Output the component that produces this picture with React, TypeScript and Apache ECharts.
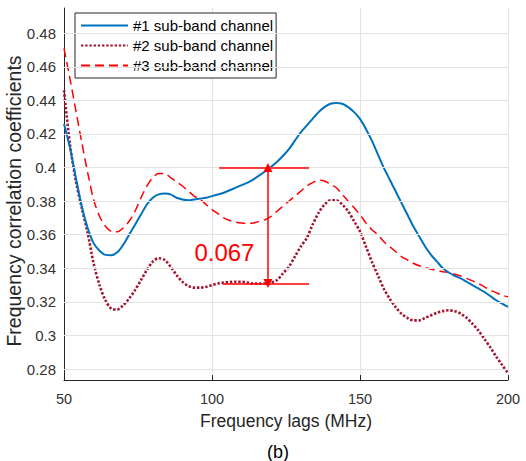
import React, { useEffect, useRef } from 'react';
import * as echarts from 'echarts';

const lags = [
  50, 52, 54, 56, 58, 60, 62, 64, 66, 68, 70, 72, 74, 76, 78, 80, 82, 84, 86, 88,
  90, 92, 94, 96, 98, 100, 102, 104, 106, 108, 110, 112, 114, 116, 118, 120, 122, 124, 126, 128,
  130, 132, 134, 136, 138, 140, 142, 144, 146, 148, 150, 152, 154, 156, 158, 160, 162, 164, 166, 168,
  170, 172, 174, 176, 178, 180, 182, 184, 186, 188, 190, 192, 194, 196, 198, 200,
];

const channel1 = [
  0.426, 0.412, 0.394, 0.377, 0.364, 0.355, 0.3505, 0.348, 0.3478, 0.3495, 0.354, 0.36, 0.366, 0.372, 0.378, 0.382, 0.384, 0.3845, 0.384, 0.382,
  0.381, 0.3805, 0.381, 0.3815, 0.382, 0.383, 0.384, 0.385, 0.3865, 0.388, 0.3895, 0.391, 0.393, 0.3953, 0.3978, 0.4005, 0.4035, 0.407, 0.411, 0.416,
  0.421, 0.425, 0.429, 0.433, 0.436, 0.438, 0.4385, 0.438, 0.436, 0.433, 0.429, 0.423, 0.416, 0.408, 0.4, 0.393, 0.386, 0.379, 0.372, 0.365,
  0.359, 0.353, 0.348, 0.344, 0.34, 0.3375, 0.3355, 0.334, 0.332, 0.33, 0.328, 0.326, 0.3235, 0.321, 0.319, 0.317,
];

const channel2 = [
  0.446, 0.414, 0.392, 0.376, 0.361, 0.343, 0.33, 0.321, 0.316, 0.3155, 0.318, 0.322, 0.327, 0.333, 0.339, 0.344, 0.346, 0.345, 0.341, 0.336,
  0.332, 0.3295, 0.3285, 0.3285, 0.329, 0.33, 0.331, 0.3315, 0.3318, 0.332, 0.332, 0.3315, 0.331, 0.331, 0.331, 0.3315, 0.333, 0.337, 0.341, 0.347,
  0.353, 0.358, 0.366, 0.373, 0.378, 0.3805, 0.3805, 0.378, 0.374, 0.368, 0.362, 0.353, 0.344, 0.336, 0.328, 0.322, 0.317, 0.313, 0.3105, 0.309,
  0.309, 0.3105, 0.312, 0.3135, 0.3145, 0.315, 0.3145, 0.313, 0.3105, 0.307, 0.303, 0.298, 0.293, 0.2875, 0.2825, 0.2775,
];

const channel3 = [
  0.471, 0.453, 0.434, 0.415, 0.397, 0.381, 0.371, 0.365, 0.362, 0.3617, 0.364, 0.368, 0.374, 0.382, 0.389, 0.394, 0.3965, 0.3965, 0.394, 0.3915,
  0.389, 0.386, 0.383, 0.381, 0.378, 0.375, 0.3725, 0.37, 0.3685, 0.3675, 0.367, 0.3668, 0.367, 0.368, 0.369, 0.371, 0.374, 0.377, 0.38, 0.383,
  0.386, 0.389, 0.391, 0.3925, 0.392, 0.39, 0.388, 0.384, 0.38, 0.376, 0.372, 0.367, 0.363, 0.36, 0.356, 0.353, 0.35, 0.347, 0.345, 0.343,
  0.3415, 0.3405, 0.3395, 0.3388, 0.338, 0.3375, 0.3365, 0.3355, 0.334, 0.3325, 0.331, 0.329, 0.327, 0.3255, 0.324, 0.323,
];

const seriesNames = ['#1 sub-band channel', '#2 sub-band channel', '#3 sub-band channel'];
const yTicks = [0.28, 0.3, 0.32, 0.34, 0.36, 0.38, 0.4, 0.42, 0.44, 0.46, 0.48];
const xTicks = [50, 100, 150, 200];

// annotation (data units)
const gapLevels = [0.4, 0.331];
const gapLag = 118.9;
const gapLineStart = [102.4, 103.7];
const gapLineEnd = 132.8;
const gapText = '0.067';
const gapTextPos = [104.2, 0.3496];

const FONT = '"Liberation Sans", Arial, Helvetica, sans-serif';

export default function App() {
  const ref = useRef<HTMLDivElement>(null);

  useEffect(() => {
    if (!ref.current) return;
    const chart = echarts.init(ref.current, null, { renderer: 'svg' });
    const pairs = (vals: number[]) => lags.map((l, i) => [l, vals[i]]);

    chart.setOption({
      animation: false,
      backgroundColor: '#ffffff',
      textStyle: { fontFamily: FONT },
      grid: { left: 64, right: 18, top: 8, bottom: 81, containLabel: false },
      legend: {
        orient: 'vertical',
        left: 75,
        top: 13,
        padding: [5, 3, 5, 5],
        itemGap: 5,
        itemWidth: 47,
        itemHeight: 12,
        selectedMode: false,
        borderColor: '#262626',
        borderWidth: 1,
        backgroundColor: '#ffffff',
        itemStyle: { opacity: 0, borderWidth: 0 },
        textStyle: { fontSize: 15, color: '#000000', fontFamily: FONT, padding: [0, 0, 0, 0] },
        data: seriesNames,
      },
      xAxis: {
        type: 'value',
        min: 50,
        max: 200,
        interval: 50,
        name: 'Frequency lags (MHz)',
        nameLocation: 'middle',
        nameGap: 32,
        nameTextStyle: { fontSize: 17.5, color: '#262626', fontFamily: FONT },
        axisLine: { show: true, lineStyle: { color: '#262626', width: 1 } },
        axisTick: { show: true, inside: true, length: 5, lineStyle: { color: '#262626' }, customValues: xTicks },
        axisLabel: { fontSize: 14.5, color: '#333333', margin: 11, fontFamily: FONT, customValues: xTicks },
        splitLine: { show: true, lineStyle: { color: '#e3e3e3', width: 1 } },
      },
      yAxis: {
        type: 'value',
        min: 0.2735,
        max: 0.495,
        axisLine: { show: true, lineStyle: { color: '#262626', width: 1 } },
        axisTick: { show: true, inside: true, length: 5, lineStyle: { color: '#262626' }, customValues: yTicks },
        axisLabel: {
          fontSize: 15,
          color: '#333333',
          margin: 8,
          fontFamily: FONT,
          customValues: yTicks,
          formatter: (v: number) => String(parseFloat(v.toFixed(3))),
        },
        splitLine: { show: false },
      },
      graphic: [
        {
          type: 'text',
          x: 14,
          y: 201,
          rotation: Math.PI / 2,
          style: {
            text: 'Frequency correlation coefficients',
            fontSize: 19.5,
            fontFamily: FONT,
            fill: '#262626',
            textAlign: 'center',
            textVerticalAlign: 'middle',
          },
        },
        {
          type: 'text',
          x: 278,
          y: 452,
          style: {
            text: '(b)',
            fontSize: 18,
            fontFamily: FONT,
            fill: '#000000',
            textAlign: 'center',
            textVerticalAlign: 'middle',
          },
        },
      ],
      series: [
        {
          name: 'grid',
          type: 'line',
          data: [],
          z: 1,
          silent: true,
          markLine: {
            silent: true,
            symbol: 'none',
            label: { show: false },
            lineStyle: { color: '#e3e3e3', width: 1, type: 'solid' },
            data: yTicks.map((v) => ({ yAxis: v })),
          },
        },
        {
          name: seriesNames[0],
          type: 'line',
          data: pairs(channel1),
          showSymbol: false,
          symbol: 'none',
          smooth: 0.3,
          z: 4,
          color: '#0072BD',
          lineStyle: { color: '#0072BD', width: 2 },
        },
        {
          name: seriesNames[1],
          type: 'line',
          data: pairs(channel2),
          showSymbol: false,
          symbol: 'none',
          smooth: 0.3,
          z: 3,
          color: '#A2142F',
          lineStyle: { color: '#A2142F', width: 2.6, type: [2.4, 1.8], cap: 'butt' },
        },
        {
          name: seriesNames[2],
          type: 'line',
          data: pairs(channel3),
          showSymbol: false,
          symbol: 'none',
          smooth: 0.3,
          z: 3,
          color: '#FF0000',
          lineStyle: { color: '#FF0000', width: 1.5, type: [9, 5] },
        },
        {
          name: 'annotation',
          type: 'line',
          data: [],
          z: 5,
          silent: true,
          markLine: {
            silent: true,
            symbol: 'none',
            label: { show: false },
            lineStyle: { color: '#FF0000', width: 1.5, type: 'solid' },
            data: [
              [{ coord: [gapLineStart[0], gapLevels[0]] }, { coord: [gapLineEnd, gapLevels[0]] }],
              [{ coord: [gapLineStart[1], gapLevels[1]] }, { coord: [gapLineEnd, gapLevels[1]] }],
              [
                { coord: [gapLag, gapLevels[1]], symbol: 'triangle', symbolSize: [9, 9], symbolRotate: 180 },
                { coord: [gapLag, gapLevels[0]], symbol: 'triangle', symbolSize: [9, 9], symbolRotate: 0 },
              ],
            ],
          },
          markPoint: {
            silent: true,
            symbol: 'rect',
            symbolSize: 1,
            itemStyle: { color: 'rgba(0,0,0,0)' },
            label: {
              show: true,
              position: 'inside',
              formatter: gapText,
              fontSize: 24,
              color: '#FF0000',
              fontFamily: FONT,
            },
            data: [{ coord: gapTextPos }],
          },
        },
      ],
    });

    return () => chart.dispose();
  }, []);

  return (
    <div
      ref={ref}
      style={{ position: 'fixed', left: 0, top: 0, width: 526, height: 461, background: '#fff' }}
    />
  );
}
